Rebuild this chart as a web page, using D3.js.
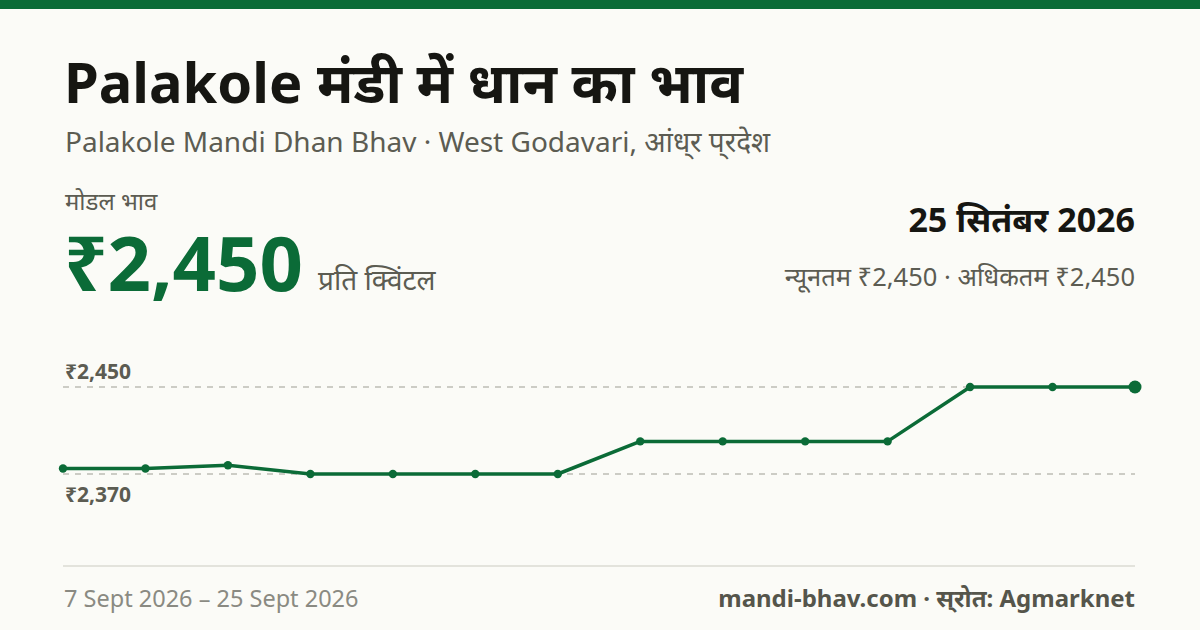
<!DOCTYPE html>
<html><head><meta charset="utf-8">
<script src="https://cdn.jsdelivr.net/npm/d3@7/dist/d3.min.js"></script>
<style>
html,body{margin:0;padding:0;background:#fbfbf7;}
svg{display:block;font-family:"Noto Sans","Noto Sans Devanagari",sans-serif;}
</style></head><body>
<svg id="c" width="1200" height="630"></svg>
<script>
const pointIndex = [1,2,3,4,5,6,7,8,9,10,11,12,13,14];
const modalPrice = [2375,2375,2378,2370,2370,2370,2370,2400,2400,2400,2400,2450,2450,2450];
const yTickValues = [2450,2370];
const yTickLabels = ["₹2,450","₹2,370"];
const title = "Palakole मंडी में धान का भाव";
const subtitle = "Palakole Mandi Dhan Bhav · West Godavari, आंध्\u200Cर प्\u200Cरदेश";
const dateRange = "7 Sept 2026 – 25 Sept 2026";
const source = "mandi-bhav.com · स्\u200Cरोत: Agmarknet";

const green = "#0b6b37";
const svg = d3.select("#c");
svg.append("rect").attr("width",1200).attr("height",630).attr("fill","#fbfbf7");
svg.append("rect").attr("width",1200).attr("height",9).attr("fill",green);

svg.append("text").attr("x",64).attr("y",103).attr("font-size",56).attr("font-weight",700).attr("fill","#161612").text(title);
svg.append("text").attr("x",65).attr("y",152).attr("font-size",28).attr("fill","#5c5c52").text(subtitle);
svg.append("text").attr("x",65).attr("y",210).attr("font-size",24).attr("fill","#5c5c52").text("मोडल भाव");
svg.append("text").attr("x",64).attr("y",291).attr("font-size",76).attr("font-weight",700).attr("fill",green).text("₹2,450");
svg.append("text").attr("x",318).attr("y",290).attr("font-size",28).attr("fill","#5c5c52").text("प्रति क्विंटल");
svg.append("text").attr("x",1135).attr("y",232).attr("text-anchor","end").attr("font-size",34).attr("font-weight",700).attr("fill","#161612").text("25 सितंबर 2026");
svg.append("text").attr("x",1135).attr("y",286).attr("text-anchor","end").attr("font-size",25.5).attr("fill","#5c5c52").text("न्यूनतम ₹2,450 · अधिकतम ₹2,450");

const x = d3.scalePoint().domain(pointIndex).range([63,1135]);
const y = d3.scaleLinear().domain([2370,2450]).range([474,387]);

const grid = svg.append("g");
yTickValues.forEach((v,i)=>{
  grid.append("line").attr("x1",63).attr("x2",1135).attr("y1",y(v)).attr("y2",y(v))
    .attr("stroke","#bdbdb5").attr("stroke-width",1.5).attr("stroke-dasharray","6,6");
});
svg.append("text").attr("x",65).attr("y",y(yTickValues[0])-8).attr("font-size",21).attr("font-weight",700).attr("fill","#5c5c52").text(yTickLabels[0]);
svg.append("text").attr("x",65).attr("y",y(yTickValues[1])+28).attr("font-size",21).attr("font-weight",700).attr("fill","#5c5c52").text(yTickLabels[1]);

const data = pointIndex.map((d,i)=>({i:d,v:modalPrice[i]}));
svg.append("path").datum(data)
  .attr("d",d3.line().x(d=>x(d.i)).y(d=>y(d.v)))
  .attr("fill","none").attr("stroke",green).attr("stroke-width",3.5).attr("stroke-linejoin","round");
svg.selectAll("circle.pt").data(data).join("circle").attr("class","pt")
  .attr("cx",d=>x(d.i)).attr("cy",d=>y(d.v))
  .attr("r",(d,i)=>i===data.length-1?6.5:4.2).attr("fill",green);

svg.append("line").attr("x1",63).attr("x2",1135).attr("y1",566).attr("y2",566).attr("stroke","#e3e3dc").attr("stroke-width",2);
svg.append("text").attr("x",64).attr("y",607).attr("font-size",23.5).attr("fill","#8a8a82").text(dateRange);
svg.append("text").attr("x",1135).attr("y",607).attr("text-anchor","end").attr("font-size",24).attr("font-weight",700).attr("fill","#55554b").text(source);
</script></body></html>
